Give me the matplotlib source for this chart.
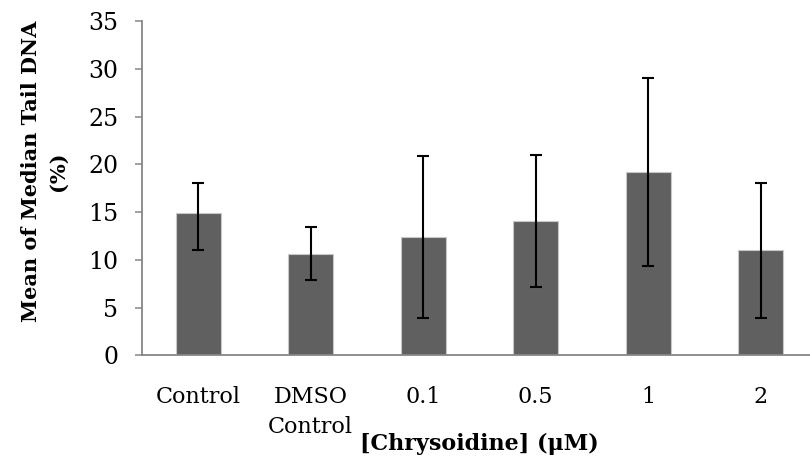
import numpy as np
import matplotlib.pyplot as plt

# Datos
categorias = ['Control', 'DMSO\nControl', '0.1', '0.5', '1', '2']
medias = [14.9, 10.6, 12.4, 14.1, 19.2, 11.0]
err_inf = [11.0, 7.9, 3.9, 7.2, 9.4, 3.9]   # extremo inferior de la barra de error
err_sup = [18.1, 13.4, 20.9, 21.0, 29.0, 18.1]  # extremo superior

plt.rcParams['font.family'] = 'DejaVu Serif'

fig = plt.figure(figsize=(8.1, 4.61), dpi=100)
ax = fig.add_axes([0.1753, 0.2289, 0.8333, 0.7255])

x = np.arange(len(categorias))
medias = np.array(medias)
yerr = [medias - np.array(err_inf), np.array(err_sup) - medias]

ax.bar(x, medias, width=0.4, color='#606060', edgecolor='#c8c8c8', linewidth=0.8, zorder=2)
ax.errorbar(x, medias, yerr=yerr, fmt='none', ecolor='black', elinewidth=1.5,
            capsize=4.3, capthick=1.5, zorder=3)

ax.set_xlim(-0.5, len(categorias) - 0.5)
ax.set_ylim(0, 35)
ax.set_yticks(range(0, 36, 5))
ax.set_xticks(x)
ax.set_xticklabels(categorias, fontsize=16, linespacing=1.45)
ax.tick_params(axis='x', length=0, pad=22)
ax.tick_params(axis='y', length=5, width=1.1, color='#868686', labelsize=17, pad=12)

for s in ['top', 'right']:
    ax.spines[s].set_visible(False)
for s in ['left', 'bottom']:
    ax.spines[s].set_color('#868686')
    ax.spines[s].set_linewidth(1.3)

ax.set_ylabel('Mean of Median Tail DNA\n(%)', fontsize=15, fontweight='bold', linespacing=1.4)
ax.yaxis.set_label_coords(-0.11, 0.552)
ax.set_xlabel('[Chrysoidine] (μM)', fontsize=16, fontweight='bold')
ax.xaxis.set_label_coords(0.5, -0.232)

plt.savefig('out.png', dpi=100)
